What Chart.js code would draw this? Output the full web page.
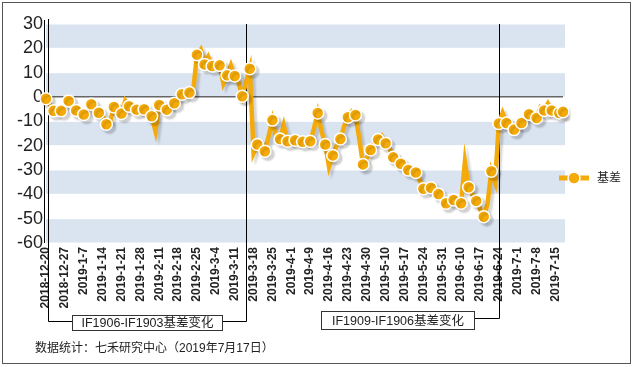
<!DOCTYPE html>
<html lang="zh">
<head>
<meta charset="UTF-8">
<title>基差变化</title>
<style>
  body { margin: 0; background: #fff; }
  #wrap { width: 633px; height: 367px; }
</style>
</head>
<body>
<div id="wrap"><canvas id="basis" width="633" height="367"></canvas></div>
<script src="https://cdn.jsdelivr.net/npm/chart.js@4/dist/chart.umd.min.js"></script>
<script>
// one tick label every 5 trading days
const tickLabels = ['2018-12-20', '2018-12-27', '2019-1-7', '2019-1-14', '2019-1-21', '2019-1-28',
  '2019-2-11', '2019-2-18', '2019-2-25', '2019-3-4', '2019-3-11', '2019-3-18', '2019-3-25',
  '2019-4-1', '2019-4-9', '2019-4-16', '2019-4-23', '2019-4-30', '2019-5-10', '2019-5-17',
  '2019-5-24', '2019-5-31', '2019-6-10', '2019-6-17', '2019-6-24', '2019-7-1', '2019-7-8', '2019-7-15'];

// daily basis, 2018-12-20 .. 2019-7-17
const basis = [
  -0.7, -3, -5.7, -5, -5.7, -3.5, -1.6, -3.5, -5.5, -6,
  -7.2, -6, -3, -5, -6.5, -8, -11.2, -10, -4.1, -5,
  -6.8, -1.5, -3.8, -4.5, -5.2, -5, -5, -5.5, -7.9, -14,
  -3.3, -4, -5.2, -4, -2.6, -1, 1.1, 1.5, 1.8, 2.5,
  17.4, 19.5, 13.4, 16.5, 12.7, 13, 13, 5.5, 8.9, 13,
  8.6, 6, 0.3, 6, 11.6, -23, -19.5, -21, -22.3, -16,
  -9.5, -17, -17.3, -11.6, -18.2, -18, -17.8, -18.5, -18.4, -18.5,
  -18.2, -13, -6.6, -14, -19.5, -28.7, -24, -20, -17.3, -12,
  -8.3, -6, -7.4, -17, -27.7, -25, -21.8, -19, -17.5, -16,
  -19, -21, -24.8, -26, -27.4, -29, -30, -30.5, -31, -34,
  -37.7, -37.5, -37.3, -38.5, -39.9, -42, -43.7, -43, -42.3, -43,
  -43.7, -26.6, -37.1, -40, -42.7, -46, -49.2, -44, -30.5, -35,
  -10.9, -6.6, -10.7, -12, -13.4, -12, -10.7, -9, -7.1, -7.5,
  -8.6, -4.3, -5.5, -2.7, -5.5, -6, -6.6, -6.1
];

const seriesName = '基差';
const yMin = -60, yMax = 30, yStep = 10;
const noteTexts = ['IF1906-IF1903基差变化', 'IF1909-IF1906基差变化'];
const noteEnds = [53, 120];   // index where each bracket rises
const sourceText = '数据统计：七禾研究中心（2019年7月17日）';

const labels = basis.map((v, i) => i % 5 === 0 ? tickLabels[i / 5] : '');

const orange = '#f4aa08';
const band = '#dae4f0';
const fam = '"Liberation Sans", Arial, "Noto Sans CJK SC", sans-serif';

// alternating horizontal bands behind the plot
const bands = {
  id: 'bands',
  beforeDraw(chart) {
    const c = chart.ctx, a = chart.chartArea, y = chart.scales.y;
    c.save();
    c.fillStyle = band;
    for (let v = yMin, k = 0; v < yMax; v += yStep, k++) {
      if (k % 2) continue;
      const top = y.getPixelForValue(v + yStep), bot = y.getPixelForValue(v);
      c.fillRect(a.left, top + 0.5, a.right - a.left + 2, bot - top - 1);
    }
    c.restore();
  }
};

// soft drop shadow under the series
const shadow = {
  id: 'shadow',
  beforeDatasetDraw(chart) {
    const c = chart.ctx;
    c.save();
    c.shadowColor = 'rgba(0,0,0,0.16)';
    c.shadowBlur = 2;
    c.shadowOffsetX = 3;
    c.shadowOffsetY = 3;
  },
  afterDatasetDraw(chart) { chart.ctx.restore(); }
};

// axis line and bracket lines (behind the data)
const brackets = {
  id: 'brackets',
  beforeDatasetsDraw(chart) {
    const c = chart.ctx, a = chart.chartArea, x = chart.scales.x;
    const x1 = Math.round(x.getPixelForValue(noteEnds[0])) + 0.5;
    const x2 = Math.round(x.getPixelForValue(noteEnds[1])) + 0.5;
    c.save();
    c.strokeStyle = '#000';
    c.lineWidth = 1;
    c.beginPath();
    c.moveTo(44.5, 20); c.lineTo(44.5, a.bottom);
    c.moveTo(48.5, 19); c.lineTo(48.5, 321.5); c.lineTo(72, 321.5);
    c.moveTo(222, 321.5); c.lineTo(x1, 321.5); c.lineTo(x1, a.top);
    c.moveTo(474, 318.5); c.lineTo(x2, 318.5); c.lineTo(x2, a.top);
    c.stroke();
    c.restore();
  }
};

// note boxes, legend, source line, outer frame
const extras = {
  id: 'extras',
  afterDraw(chart) {
    const c = chart.ctx;
    c.save();
    c.lineWidth = 1;
    c.strokeStyle = '#333';
    const boxes = [[72.5, 315.5, 150, 15], [321.5, 311.5, 153, 18]];
    c.font = '12.5px ' + fam;
    c.textAlign = 'center';
    c.textBaseline = 'middle';
    boxes.forEach((b, i) => {
      c.fillStyle = '#fff';
      c.fillRect(b[0], b[1], b[2], b[3]);
      c.strokeRect(b[0], b[1], b[2], b[3]);
      c.fillStyle = '#222';
      c.fillText(noteTexts[i], b[0] + b[2] / 2, b[1] + b[3] / 2 + 1);
    });

    c.textAlign = 'left';
    c.font = '12px ' + fam;
    c.fillText(sourceText, 35, 349);

    // legend
    c.strokeStyle = orange;
    c.lineWidth = 5;
    c.beginPath(); c.moveTo(559, 178); c.lineTo(589, 178); c.stroke();
    c.beginPath(); c.arc(574, 178, 6, 0, Math.PI * 2);
    c.fillStyle = orange; c.fill();
    c.lineWidth = 1.5; c.strokeStyle = '#fff'; c.stroke();
    c.fillStyle = '#222';
    c.font = '12px ' + fam;
    c.fillText(seriesName, 597, 179);

    c.strokeStyle = '#555';
    c.lineWidth = 1;
    c.strokeRect(2.5, 2.5, 628, 361);
    c.restore();
  }
};

new Chart(document.getElementById('basis'), {
  type: 'line',
  data: {
    labels: labels,
    datasets: [{
      label: seriesName,
      data: basis,
      borderColor: orange,
      borderWidth: 4.5,
      tension: 0,
      pointBackgroundColor: orange,
      pointBorderColor: '#fff',
      pointBorderWidth: 1.5,
      pointRadius: ctx => (ctx.dataIndex % 2 === 0 || ctx.dataIndex === basis.length - 1) ? 6 : 0
    }]
  },
  options: {
    responsive: false,
    animation: false,
    layout: { padding: { top: 24, right: 70, left: 0, bottom: 0 } },
    plugins: { legend: { display: false }, tooltip: { enabled: false } },
    scales: {
      x: {
        grid: { display: false, drawTicks: false },
        border: { display: false },
        ticks: {
          autoSkip: false, maxRotation: 90, minRotation: 90, padding: 4,
          color: '#222', font: { family: fam, size: 12, weight: 'bold' }
        },
        afterFit: s => { s.height = 124; }
      },
      y: {
        min: yMin, max: yMax,
        ticks: {
          stepSize: yStep, autoSkip: false, padding: 3, color: '#222',
          font: { family: fam, size: 18 }
        },
        grid: {
          drawTicks: false,
          color: ctx => ctx.tick && ctx.tick.value === 0 ? '#666' : 'rgba(0,0,0,0)',
          lineWidth: 1.5
        },
        border: { display: false },
        afterFit: s => { s.width = 46; }
      }
    }
  },
  plugins: [bands, shadow, brackets, extras]
});
</script>
</body>
</html>
